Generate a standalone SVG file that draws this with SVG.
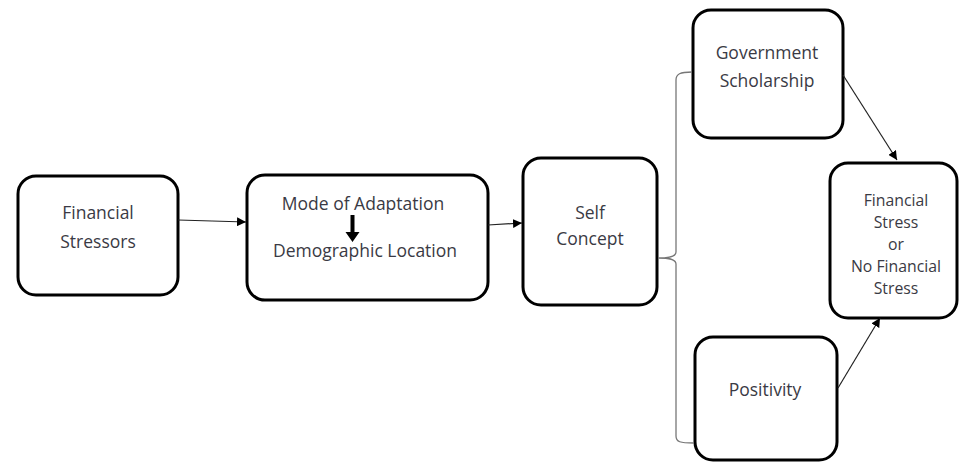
<svg xmlns="http://www.w3.org/2000/svg" width="964" height="462" viewBox="0 0 964 462">
<style>
.box{fill:#fff;stroke:#000;stroke-width:3}
.t{font-family:"Open Sans","Liberation Sans",sans-serif;font-size:17.5px;fill:#3a3a44;text-anchor:middle}
.s{font-size:15.8px}
.c{stroke:#222;stroke-width:1.2;fill:none}
</style>
<defs>
<marker id="ah" viewBox="0 0 10 10" refX="10" refY="5" markerWidth="9" markerHeight="9" markerUnits="userSpaceOnUse" orient="auto">
<path d="M0,0 L10,5 L0,10 z" fill="#000"/>
</marker>
</defs>
<rect width="964" height="462" fill="#fff"/>
<g id="n1">
<rect class="box" x="18" y="176" width="160" height="119" rx="18"/>
<text class="t" x="98" y="219">Financial</text>
<text class="t" x="98" y="248">Stressors</text>
</g>
<g id="n2">
<rect class="box" x="247" y="175" width="241" height="125" rx="18"/>
<text class="t" x="363" y="210">Mode of Adaptation</text>
<path d="M350.5,215 h4 v17 h5 l-7,10 l-7,-10 h5 z" fill="#000"/>
<text class="t" x="365" y="257">Demographic Location</text>
</g>
<g id="n3">
<rect class="box" x="523" y="158" width="134" height="147" rx="18"/>
<text class="t" x="590" y="219">Self</text>
<text class="t" x="590" y="245">Concept</text>
</g>
<g id="n4">
<rect class="box" x="693" y="10" width="150" height="128" rx="18"/>
<text class="t" x="767" y="59">Government</text>
<text class="t" x="767" y="87">Scholarship</text>
</g>
<g id="n5">
<rect class="box" x="830" y="163" width="127" height="155" rx="18"/>
<text class="t s" x="896" y="206">Financial</text>
<text class="t s" x="896" y="228">Stress</text>
<text class="t s" x="896" y="250">or</text>
<text class="t s" x="896" y="272">No Financial</text>
<text class="t s" x="896" y="294">Stress</text>
</g>
<g id="n6">
<rect class="box" x="695" y="337" width="142" height="123" rx="18"/>
<text class="t" x="765" y="396">Positivity</text>
</g>
<g id="connectors">
<line class="c" x1="178" y1="220" x2="246" y2="222" marker-end="url(#ah)"/>
<line class="c" x1="488" y1="225" x2="522" y2="223" marker-end="url(#ah)"/>
<line class="c" x1="843" y1="75" x2="897" y2="160" marker-end="url(#ah)"/>
<line class="c" x1="838" y1="388" x2="880" y2="318" marker-end="url(#ah)"/>
<path d="M692,72 C680,72 676,74 676,80 V252 C676,256 672,258 658,258 C672,258 676,260 676,264 V436 C676,442 680,443 694,443" fill="none" stroke="#777" stroke-width="1.3"/>
</g>
</svg>
